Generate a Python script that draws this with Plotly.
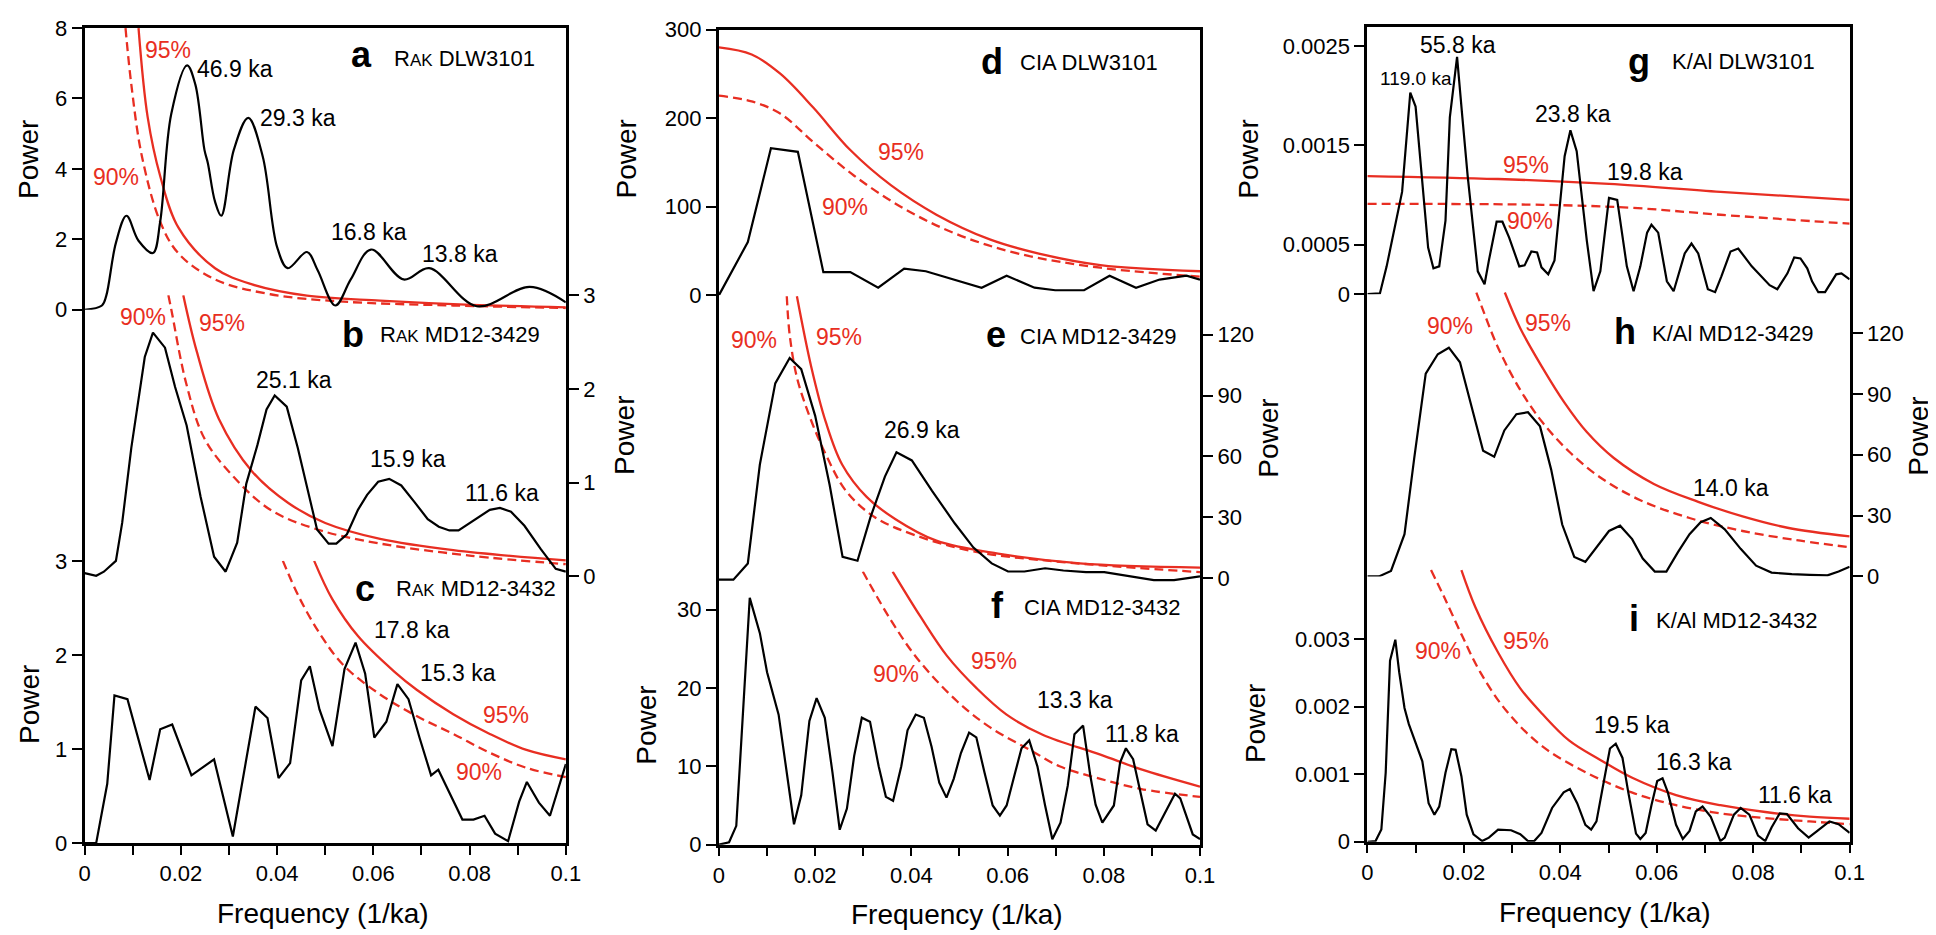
import plotly.graph_objects as go

FONT = "Liberation Sans, Arial, Helvetica, sans-serif"
RED = "rgb(232,46,34)"
W, H = 1936, 935

# ---------------- data: column 1 (RAK) ----------------
a_freq = [0, 0.0036, 0.0045, 0.0065, 0.0087, 0.0112, 0.0142, 0.0157, 0.018, 0.0213, 0.023, 0.0249, 0.0256,
          0.0271, 0.0284, 0.031, 0.034, 0.037, 0.040, 0.0422, 0.0462, 0.0484, 0.0521, 0.0553, 0.0595, 0.0663,
          0.0716, 0.0815, 0.0925, 0.1]
a_power = [0, 0.12, 0.4, 1.9, 2.67, 1.96, 1.61, 2.5, 5.56, 6.94, 6.4, 4.54, 4.17, 3.07, 2.67, 4.54, 5.45, 4.36,
           1.78, 1.18, 1.64, 1.13, 0.12, 0.86, 1.71, 0.86, 1.18, 0.1, 0.65, 0.21]
a95_freq = [0.0112, 0.0131, 0.0157, 0.0195, 0.0271, 0.0348, 0.0462, 0.0614, 0.0804, 0.1]
a95_power = [8.0, 5.47, 3.8, 2.33, 1.18, 0.72, 0.4, 0.26, 0.14, 0.07]
a90_freq = [0.0085, 0.0097, 0.0119, 0.0157, 0.0195, 0.0271, 0.0386, 0.0538, 0.0766, 0.1]
a90_power = [8.0, 6.4, 4.36, 2.5, 1.6, 0.86, 0.44, 0.23, 0.12, 0.05]

b_freq = [0, 0.0024, 0.004, 0.0065, 0.0078, 0.0097, 0.0125, 0.0142, 0.0167, 0.0188, 0.0212, 0.0241, 0.0269,
          0.0293, 0.0317, 0.0336, 0.0359, 0.0378, 0.0395, 0.042, 0.0443, 0.0462, 0.0483, 0.0507, 0.0523, 0.0545,
          0.0568, 0.0587, 0.061, 0.0633, 0.0658, 0.0686, 0.0713, 0.0736, 0.0758, 0.0777, 0.08, 0.0823, 0.0842,
          0.0863, 0.0886, 0.0914, 0.0948, 0.0979, 0.1]
b_power = [0.035, 0.007, 0.05, 0.166, 0.57, 1.37, 2.34, 2.6, 2.44, 2.02, 1.61, 0.85, 0.21, 0.05, 0.36, 0.99,
           1.40, 1.78, 1.93, 1.81, 1.37, 0.95, 0.5, 0.35, 0.35, 0.45, 0.71, 0.87, 1.01, 1.04, 0.97, 0.79, 0.61,
           0.53, 0.49, 0.49, 0.57, 0.65, 0.71, 0.73, 0.69, 0.54, 0.29, 0.08, 0.05]
b95_freq = [0.0205, 0.0233, 0.0279, 0.0348, 0.0424, 0.05, 0.0614, 0.0766, 0.1]
b95_power = [3.0, 2.4, 1.68, 1.12, 0.78, 0.57, 0.4, 0.28, 0.17]
b90_freq = [0.0174, 0.018, 0.0211, 0.0249, 0.031, 0.0386, 0.0484, 0.0614, 0.0804, 0.1]
b90_power = [3.0, 2.85, 2.06, 1.47, 1.06, 0.71, 0.5, 0.35, 0.22, 0.13]

c_freq = [0, 0.0024, 0.0047, 0.0062, 0.0089, 0.0135, 0.0157, 0.0182, 0.0222, 0.0269, 0.0308, 0.0355, 0.038,
          0.0403, 0.0427, 0.045, 0.0468, 0.0488, 0.0515, 0.054, 0.0563, 0.0583, 0.0602, 0.0627, 0.065, 0.0673,
          0.0696, 0.072, 0.0735, 0.0785, 0.0808, 0.0831, 0.0853, 0.088, 0.0903, 0.0919, 0.0944, 0.0967, 0.1]
c_power = [0, 0, 0.63, 1.57, 1.53, 0.67, 1.21, 1.26, 0.72, 0.89, 0.07, 1.45, 1.33, 0.69, 0.85, 1.73, 1.88,
           1.42, 1.03, 1.85, 2.13, 1.80, 1.12, 1.29, 1.69, 1.53, 1.12, 0.72, 0.78, 0.25, 0.25, 0.29, 0.1, 0.02,
           0.44, 0.65, 0.43, 0.29, 0.84]
c95_freq = [0.0477, 0.0515, 0.0568, 0.0644, 0.069, 0.0766, 0.0842, 0.0918, 0.1]
c95_power = [3.0, 2.59, 2.2, 1.82, 1.63, 1.37, 1.16, 0.99, 0.89]
c90_freq = [0.0412, 0.0446, 0.0492, 0.0538, 0.0614, 0.069, 0.0766, 0.0842, 0.0918, 0.1]
c90_power = [3.0, 2.61, 2.2, 1.89, 1.58, 1.35, 1.16, 0.96, 0.8, 0.70]

# ---------------- data: column 2 (CIA) ----------------
d_freq = [0, 0.006, 0.0108, 0.0164, 0.0217, 0.0273, 0.0331, 0.0385, 0.043, 0.0546, 0.0598, 0.0656, 0.0699,
          0.0759, 0.0812, 0.0867, 0.0916, 0.0972, 0.1]
d_power = [0, 60, 166, 162, 26, 26, 8.4, 30, 27, 8.4, 22, 8.4, 5.5, 5.5, 22, 8.4, 17.6, 22, 17.6]
d95_freq = [0, 0.0068, 0.0128, 0.0196, 0.0273, 0.0358, 0.0452, 0.0563, 0.0665, 0.0793, 0.1]
d95_power = [280, 272, 250, 212, 164, 124, 91, 63, 47, 34, 27]
d90_freq = [0, 0.0068, 0.0128, 0.0196, 0.0281, 0.0384, 0.0494, 0.0622, 0.0793, 0.1]
d90_power = [225.5, 219, 205, 173, 135, 98, 69, 47, 31, 21]

e_freq = [0, 0.003, 0.006, 0.0085, 0.0117, 0.0147, 0.0171, 0.02, 0.023, 0.0257, 0.0288, 0.0315, 0.0345,
          0.0369, 0.0401, 0.0443, 0.049, 0.0529, 0.0567, 0.0601, 0.0635, 0.0678, 0.0716, 0.0763, 0.0801,
          0.0852, 0.0904, 0.0946, 0.1]
e_power = [-0.8, -0.8, 7.2, 56, 96, 108.5, 103, 80, 46, 10.4, 8.5, 30, 50, 62, 58, 43, 27, 15, 7.2, 3.2, 3.2,
           4.8, 3.7, 2.9, 2.9, 1.1, -1, -1, 0.8]
e95_freq = [0.0162, 0.0192, 0.0222, 0.0256, 0.0307, 0.0367, 0.0452, 0.058, 0.075, 0.1]
e95_power = [139, 104, 77, 56, 40, 29, 18.4, 12, 7.2, 5.1]
e90_freq = [0.0141, 0.0147, 0.0162, 0.0188, 0.0222, 0.0264, 0.0324, 0.0409, 0.0537, 0.0708, 0.1]
e90_power = [139, 120, 99, 80, 61, 43, 30, 21, 12.8, 8, 2.9]

f_freq = [0, 0.0021, 0.0036, 0.0064, 0.0085, 0.01, 0.0124, 0.0141, 0.0156, 0.0171, 0.0188, 0.0203, 0.022,
          0.0236, 0.0251, 0.0266, 0.0281, 0.0297, 0.0314, 0.0332, 0.0347, 0.0362, 0.0379, 0.0392, 0.0409,
          0.0426, 0.0442, 0.0458, 0.0473, 0.0488, 0.0503, 0.052, 0.0535, 0.0552, 0.0569, 0.0584, 0.0598,
          0.0614, 0.0629, 0.0645, 0.0662, 0.0678, 0.0693, 0.071, 0.0725, 0.0739, 0.0757, 0.0772, 0.0783,
          0.0797, 0.0821, 0.0834, 0.0846, 0.0861, 0.0874, 0.0891, 0.0908, 0.0929, 0.0948, 0.0959, 0.0985, 0.1]
f_power = [0, 0.3, 2.4, 31.5, 27, 22, 16.6, 9.2, 2.6, 6.3, 15.8, 18.7, 16.2, 9.2, 1.9, 4.6, 11.3, 16.2, 15.7,
           10, 6.1, 5.6, 10, 14.6, 16.6, 16.2, 12.5, 7.9, 6, 8.4, 11.7, 14.3, 13.7, 9.2, 5, 3.7, 5, 8.8, 12.3,
           13.3, 10, 5, 0.7, 2.8, 7.5, 14.1, 15.2, 8.8, 5.1, 2.8, 5, 10.5, 12.3, 10.9, 7.1, 2.6, 1.8, 4.2, 6.5,
           5.9, 1.3, 0.7]
f95_freq = [0.0361, 0.0419, 0.0474, 0.0536, 0.0598, 0.0674, 0.0793, 0.0878, 0.1]
f95_power = [34.86, 29.1, 24.1, 19.95, 16.6, 14.0, 11.5, 9.6, 7.4]
f90_freq = [0.0299, 0.0358, 0.0413, 0.0495, 0.0563, 0.0652, 0.0708, 0.0793, 0.0878, 0.1]
f90_power = [34.86, 28.6, 23.7, 18.3, 15.0, 11.9, 10.0, 8.4, 7.1, 6.1]

# ---------------- data: column 3 (K/Al) ----------------
g_freq = [0, 0.0026, 0.004, 0.0058, 0.0072, 0.0089, 0.01, 0.0126, 0.0137, 0.0149, 0.0162, 0.0171, 0.0186,
          0.0197, 0.0208, 0.0229, 0.0243, 0.0252, 0.0268, 0.028, 0.0294, 0.0315, 0.0326, 0.034, 0.0352, 0.0361,
          0.0375, 0.0388, 0.0409, 0.0421, 0.0434, 0.0455, 0.0469, 0.0483, 0.0501, 0.0518, 0.0538, 0.0552,
          0.0566, 0.058, 0.0589, 0.0603, 0.0621, 0.0635, 0.0658, 0.0672, 0.0686, 0.0706, 0.0721, 0.0734,
          0.0753, 0.0769, 0.0797, 0.0834, 0.085, 0.0871, 0.0885, 0.0898, 0.0912, 0.0922, 0.0935, 0.0949,
          0.0972, 0.0983, 0.1]
g_power = [0, 0.000007, 0.00028, 0.0007, 0.00103, 0.00203, 0.00189, 0.00047, 0.00026, 0.00028, 0.00074,
           0.00178, 0.00239, 0.00178, 0.00119, 0.00023, 0.0001, 0.00034, 0.00073, 0.00073, 0.00057, 0.00028,
           0.00029, 0.00043, 0.00042, 0.00027, 0.0002, 0.00034, 0.00139, 0.00165, 0.00144, 0.00054, 0.00003,
           0.00023, 0.00097, 0.00095, 0.00028, 0.00003, 0.00028, 0.00062, 0.0007, 0.00062, 0.00013, 0.00003,
           0.00041, 0.00051, 0.00041, 0.00005, 0.00002, 0.00018, 0.00043, 0.00046, 0.00028, 0.00009, 0.00005,
           0.00021, 0.00037, 0.00036, 0.00026, 0.00013, 0.00002, 0.00002, 0.0002, 0.00021, 0.00015]
g95_freq = [0, 0.0271, 0.0501, 0.0732, 0.1]
g95_power = [0.00119, 0.00116, 0.00111, 0.00103, 0.00095]
g90_freq = [0, 0.0363, 0.0548, 0.0732, 0.1]
g90_power = [0.00091, 0.0009, 0.00087, 0.0008, 0.00071]

h_freq = [0, 0.0024, 0.0049, 0.0077, 0.0097, 0.0121, 0.0146, 0.0169, 0.0192, 0.0215, 0.024, 0.0263, 0.0284,
          0.0309, 0.0333, 0.0358, 0.0381, 0.0404, 0.0429, 0.0452, 0.0476, 0.0501, 0.0524, 0.0549, 0.0571,
          0.0596, 0.062, 0.0644, 0.0668, 0.0691, 0.0712, 0.0741, 0.0774, 0.0806, 0.0838, 0.088, 0.0917,
          0.0954, 0.0977, 0.1]
h_power = [0, 0, 2.7, 20.8, 58, 100, 109.6, 112.8, 105.6, 84, 62, 59, 72, 80, 81, 74, 52.8, 25.6, 9.6, 7.2,
           14.4, 22.4, 25, 18.4, 8.8, 2.4, 2.4, 12, 20.8, 26.7, 28.8, 23.2, 13.6, 5.3, 1.9, 1.1, 0.8, 0.5,
           2.4, 4.8]
h95_freq = [0.0285, 0.0317, 0.0363, 0.0409, 0.0455, 0.0511, 0.0594, 0.0686, 0.0778, 0.0871, 0.1]
h95_power = [140, 122.4, 103, 85.6, 71.2, 58.4, 45.6, 36.8, 29.6, 24, 19.7]
h90_freq = [0.0226, 0.0234, 0.0271, 0.0317, 0.0363, 0.0418, 0.0483, 0.0566, 0.0668, 0.0778, 0.0898, 0.1]
h90_power = [140, 135, 112.8, 92, 76, 61.6, 48.8, 37.6, 28.8, 22.4, 17.6, 14.4]

i_freq = [0, 0.0017, 0.0029, 0.0038, 0.0047, 0.0058, 0.0066, 0.0077, 0.0086, 0.0114, 0.0127, 0.0139, 0.0149,
          0.0162, 0.0174, 0.0183, 0.0195, 0.0206, 0.022, 0.0238, 0.0252, 0.0271, 0.0298, 0.0317, 0.0333,
          0.0346, 0.0361, 0.0383, 0.0407, 0.042, 0.0435, 0.0452, 0.0464, 0.0475, 0.049, 0.0503, 0.0515,
          0.0529, 0.0541, 0.0557, 0.0566, 0.0577, 0.0589, 0.0601, 0.0612, 0.0623, 0.064, 0.0654, 0.0668,
          0.0681, 0.0695, 0.0712, 0.0732, 0.0741, 0.076, 0.0774, 0.0792, 0.081, 0.0825, 0.0838, 0.0855,
          0.087, 0.0893, 0.0915, 0.0933, 0.0958, 0.0977, 0.1]
i_power = [0, 0.00001, 0.00018, 0.00102, 0.00268, 0.00299, 0.00251, 0.00198, 0.00174, 0.00119, 0.00057,
           0.0004, 0.00052, 0.00102, 0.00137, 0.00136, 0.00097, 0.0004, 0.00011, 0.00001, 0.00006, 0.00018,
           0.00017, 0.00011, 0.00001, 0.00001, 0.00013, 0.0005, 0.00073, 0.00078, 0.00057, 0.00025, 0.00018,
           0.0003, 0.00088, 0.00138, 0.00145, 0.00124, 0.00073, 0.00012, 0.00004, 0.00013, 0.00054, 0.0009,
           0.00094, 0.00073, 0.00025, 0.00004, 0.00016, 0.00045, 0.00052, 0.00037, 0.00001, 0.00006, 0.0004,
           0.0005, 0.0004, 0.00009, 0.00001, 0.00021, 0.00042, 0.00041, 0.0002, 0.00006, 0.00016, 0.0003,
           0.00026, 0.00013]
i95_freq = [0.0195, 0.0224, 0.0271, 0.0317, 0.0363, 0.0418, 0.0483, 0.0548, 0.064, 0.0732, 0.0825, 0.0917, 0.1]
i95_power = [0.00402, 0.00347, 0.0028, 0.00227, 0.00189, 0.0015, 0.00121, 0.00095, 0.00069, 0.00054, 0.00044,
             0.00037, 0.00034]
i90_freq = [0.0132, 0.016, 0.0197, 0.0234, 0.0289, 0.0363, 0.0455, 0.0548, 0.064, 0.0732, 0.0825, 0.0917, 0.1]
i90_power = [0.00402, 0.00361, 0.00304, 0.00251, 0.00193, 0.00141, 0.00102, 0.00073, 0.00054, 0.00042,
             0.00035, 0.0003, 0.00026]

x_tickvals = [0, 0.01, 0.02, 0.03, 0.04, 0.05, 0.06, 0.07, 0.08, 0.09, 0.1]
x_ticktext = ["0", "", "0.02", "", "0.04", "", "0.06", "", "0.08", "", "0.1"]

# ---------------- layout geometry (pixels) ----------------
def pxx(x):
    return x / W

def pyy(y):
    return 1 - y / H

cols = [(71.4, 557.9, 8.3, 845.7), (712.7, 1199.0, 10.0, 847.3), (1368.2, 1855.8, 6.7, 844.3)]

# panel: (col, yaxis idx, range, pixel bottom, pixel top, side, tickvals, ticktext)
panels = {
    "a": (0, 1, [0, 8], 297.7, 8.3, "left", [0, 2, 4, 6, 8], None),
    "b": (0, 2, [-0.05, 3], 576.5, 282.7, "right", [0, 1, 2, 3], None),
    "c": (0, 3, [0, 3], 845.7, 555.7, "left", [0, 1, 2, 3], None),
    "d": (1, 4, [0, 300], 282.7, 10.0, "left", [0, 100, 200, 300], None),
    "e": (1, 5, [-2, 139.4], 577.5, 283.0, "right", [0, 30, 60, 90, 120], None),
    "f": (1, 6, [0, 34.86], 847.3, 566.7, "left", [0, 10, 20, 30], None),
    "g": (2, 7, [0, 0.002696], 281.7, 6.7, "left", [0, 0.0005, 0.0015, 0.0025],
          ["0", "0.0005", "0.0015", "0.0025"]),
    "h": (2, 8, [0, 140.5], 571.7, 279.0, "right", [0, 30, 60, 90, 120], None),
    "i": (2, 9, [0, 0.004052], 844.3, 563.0, "left", [0, 0.001, 0.002, 0.003],
          ["0", "0.001", "0.002", "0.003"]),
}

series = {
    "a": (a_freq, a_power, a95_freq, a95_power, a90_freq, a90_power, "spline"),
    "b": (b_freq, b_power, b95_freq, b95_power, b90_freq, b90_power, "linear"),
    "c": (c_freq, c_power, c95_freq, c95_power, c90_freq, c90_power, "linear"),
    "d": (d_freq, d_power, d95_freq, d95_power, d90_freq, d90_power, "linear"),
    "e": (e_freq, e_power, e95_freq, e95_power, e90_freq, e90_power, "linear"),
    "f": (f_freq, f_power, f95_freq, f95_power, f90_freq, f90_power, "linear"),
    "g": (g_freq, g_power, g95_freq, g95_power, g90_freq, g90_power, "linear"),
    "h": (h_freq, h_power, h95_freq, h95_power, h90_freq, h90_power, "linear"),
    "i": (i_freq, i_power, i95_freq, i95_power, i90_freq, i90_power, "linear"),
}

fig = go.Figure()
layout = {}
xnames = ["x", "x2", "x3"]

for ci, (x0, x1, top, bot) in enumerate(cols):
    xk = "xaxis" if ci == 0 else f"xaxis{ci + 1}"
    frame_idx = 10 + ci
    layout[xk] = dict(domain=[pxx(x0), pxx(x1)], range=[0, 0.1], anchor=f"y{frame_idx}",
                      showline=True, mirror=True, linecolor="black", linewidth=2.5,
                      ticks="outside", ticklen=9, tickwidth=2, tickcolor="black",
                      tickvals=x_tickvals, ticktext=x_ticktext, showgrid=False, zeroline=False,
                      tickfont=dict(size=22, family=FONT, color="black"), fixedrange=True)
    layout[f"yaxis{frame_idx}"] = dict(domain=[pyy(bot), pyy(top)], range=[0, 1], anchor=xnames[ci],
                                       showline=True, mirror=True, linecolor="black", linewidth=2.5,
                                       ticks="", showticklabels=False, showgrid=False, zeroline=False)
    fig.add_trace(go.Scatter(x=[], y=[], xaxis=xnames[ci], yaxis=f"y{frame_idx}",
                             showlegend=False, hoverinfo="skip"))

for key, (ci, yi, rng, pb, pt, side, tv, tt) in panels.items():
    yk = "yaxis" if yi == 1 else f"yaxis{yi}"
    ax = dict(domain=[pyy(pb), pyy(pt)], range=rng, anchor=xnames[ci], side=side,
              showline=False, ticks="outside", ticklen=12, tickwidth=2, tickcolor="black",
              tickvals=tv, showgrid=False, zeroline=False,
              tickfont=dict(size=22, family=FONT, color="black"), fixedrange=True)
    if tt is not None:
        ax["ticktext"] = tt
    layout[yk] = ax
    fx, fp, f95x, f95y, f90x, f90y, shape = series[key]
    yref = "y" if yi == 1 else f"y{yi}"
    fig.add_trace(go.Scatter(x=f95x, y=f95y, mode="lines", xaxis=xnames[ci], yaxis=yref,
                             line=dict(color=RED, width=2.3, shape="spline"), showlegend=False))
    fig.add_trace(go.Scatter(x=f90x, y=f90y, mode="lines", xaxis=xnames[ci], yaxis=yref,
                             line=dict(color=RED, width=2.3, dash="9px,5px", shape="spline"),
                             showlegend=False))
    fig.add_trace(go.Scatter(x=fx, y=fp, mode="lines", xaxis=xnames[ci], yaxis=yref,
                             line=dict(color="black", width=2.2, shape=shape), showlegend=False))

# ---------------- annotations ----------------
ann = []

def T(text, x, y, panel, size=23, color="black", bold=False):
    ci, yi = panels[panel][0], panels[panel][1]
    if bold:
        text = f"<b>{text}</b>"
    ann.append(dict(text=text, x=x, y=y, xref=xnames[ci], yref=("y" if yi == 1 else f"y{yi}"),
                    showarrow=False, xanchor="center", yanchor="middle",
                    font=dict(size=size, color=color, family=FONT)))

def P(text, x, y, angle=0, size=28):
    ann.append(dict(text=text, x=pxx(x), y=pyy(y), xref="paper", yref="paper", showarrow=False,
                    xanchor="center", yanchor="middle", textangle=angle,
                    font=dict(size=size, color="black", family=FONT)))

SC = "<span style='font-size:17px'>AK</span>"

T("95%", 0.0173, 7.38, "a", color=RED)
T("90%", 0.0066, 3.76, "a", color=RED)
T("46.9 ka", 0.0312, 6.83, "a")
T("29.3 ka", 0.0443, 5.45, "a")
T("16.8 ka", 0.0591, 2.22, "a")
T("13.8 ka", 0.0781, 1.59, "a")
T("a", 0.0576, 7.26, "a", size=36, bold=True)
T(f"R{SC} DLW3101", 0.0789, 7.14, "a", size=22)

T("90%", 0.0121, 2.77, "b", color=RED)
T("95%", 0.0285, 2.70, "b", color=RED)
T("b", 0.0557, 2.58, "b", size=36, bold=True)
T(f"R{SC} MD12-3429", 0.0781, 2.58, "b", size=22)
T("25.1 ka", 0.0435, 2.1, "b")
T("15.9 ka", 0.0673, 1.25, "b")
T("11.6 ka", 0.0868, 0.89, "b")

T("c", 0.0582, 2.71, "c", size=36, bold=True)
T(f"R{SC} MD12-3432", 0.0813, 2.71, "c", size=22)
T("17.8 ka", 0.0681, 2.27, "c")
T("15.3 ka", 0.0775, 1.81, "c")
T("95%", 0.0876, 1.36, "c", color=RED)
T("90%", 0.082, 0.76, "c", color=RED)

T("d", 0.0567, 264, "d", size=36, bold=True)
T("CIA DLW3101", 0.0769, 263, "d", size=22)
T("95%", 0.0378, 162, "d", color=RED)
T("90%", 0.0263, 100, "d", color=RED)

T("90%", 0.0072, 117.6, "e", color=RED)
T("95%", 0.0249, 118.7, "e", color=RED)
T("e", 0.0575, 120, "e", size=36, bold=True)
T("CIA MD12-3429", 0.0789, 119, "e", size=22)
T("26.9 ka", 0.0422, 72.8, "e")

T("f", 0.058, 30.5, "f", size=36, bold=True)
T("CIA MD12-3432", 0.0797, 30.3, "f", size=22)
T("95%", 0.0571, 23.5, "f", color=RED)
T("90%", 0.0367, 21.8, "f", color=RED)
T("13.3 ka", 0.074, 18.5, "f")
T("11.8 ka", 0.088, 14.1, "f")

T("g", 0.0564, 0.00234, "g", size=36, bold=True)
T("K/Al DLW3101", 0.078, 0.00234, "g", size=22)
T("119.0 ka", 0.01, 0.00217, "g", size=19)
T("55.8 ka", 0.0187, 0.00251, "g")
T("23.8 ka", 0.0426, 0.00181, "g")
T("19.8 ka", 0.0575, 0.00123, "g")
T("95%", 0.0328, 0.00130, "g", color=RED)
T("90%", 0.0338, 0.00074, "g", color=RED)

T("90%", 0.0172, 123.7, "h", color=RED)
T("95%", 0.0374, 124.8, "h", color=RED)
T("h", 0.0534, 120.8, "h", size=36, bold=True)
T("K/Al MD12-3429", 0.0758, 120, "h", size=22)
T("14.0 ka", 0.0755, 43.5, "h")

T("i", 0.0552, 0.0033, "i", size=36, bold=True)
T("K/Al MD12-3432", 0.0766, 0.00327, "i", size=22)
T("95%", 0.0329, 0.00297, "i", color=RED)
T("90%", 0.0146, 0.00282, "i", color=RED)
T("19.5 ka", 0.0548, 0.00173, "i")
T("16.3 ka", 0.0677, 0.00118, "i")
T("11.6 ka", 0.0886, 0.00069, "i")

# axis titles
P("Power", 14, 143, -90)
P("Power", 15, 703, -90)
P("Power", 617, 427, -90)
P("Power", 619, 143, -90)
P("Power", 640, 725, -90)
P("Power", 1268, 430, -90)
P("Power", 1248, 143, -90)
P("Power", 1255, 723, -90)
P("Power", 1925, 428, -90)
P("Frequency (1/ka)", 312, 918)
P("Frequency (1/ka)", 953, 919)
P("Frequency (1/ka)", 1608, 917)

fig.update_layout(**layout)
fig.update_layout(width=W, height=H, margin=dict(l=0, r=0, t=0, b=0), autosize=False,
                  paper_bgcolor="white", plot_bgcolor="rgba(0,0,0,0)", showlegend=False,
                  font=dict(family=FONT, size=22, color="black"), annotations=ann,
                  hovermode=False)

fig.write_html("out.html", config={"displayModeBar": False})
